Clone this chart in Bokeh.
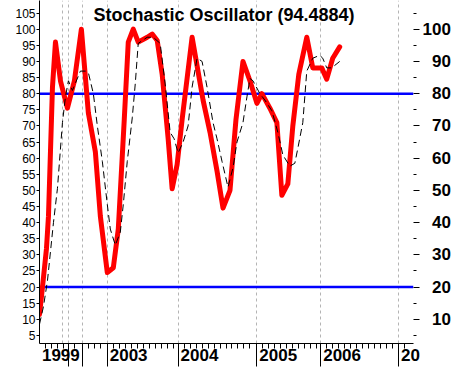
from bokeh.plotting import figure
from bokeh.models import LinearAxis, FixedTicker, Span, Label, Range1d, Grid
from bokeh.embed import file_html
from bokeh.resources import INLINE

# ---- data (x = position along the time axis, in periods) ----
k_x = [0, 3, 7, 9, 11, 13, 16, 21, 28, 35, 42, 49, 56, 61, 68, 74, 79, 85, 89, 94,
       99, 108, 113, 118, 123, 129, 133, 138, 143, 153, 164, 171, 178, 184, 191, 197,
       204, 211, 218, 223, 231, 238, 243, 249, 254, 260, 268, 274, 283, 288, 294, 301]
k_y = [11.5, 20, 32, 42, 62, 82, 96, 84, 75.5, 84, 100, 74, 62, 42, 24.5, 26, 38, 72, 96, 100,
       96, 97.5, 98.5, 96.5, 86, 66, 50.5, 58, 72, 97.5, 78, 68, 56, 44.5, 50, 72,
       90, 84, 77, 80, 75.5, 71, 48.5, 52, 70, 86, 97.5, 88, 88, 84.5, 91, 94.5]

d_x = [0, 4, 8, 11, 14, 18, 23, 26, 29, 33, 41, 46, 49, 54, 58, 63, 68, 71, 76, 81,
       84, 88, 93, 96, 99, 108, 114, 121, 126, 131, 135, 139, 144, 149, 153, 158, 163,
       168, 174, 178, 183, 189, 194, 198, 204, 208, 211, 214, 221, 226, 233, 239, 244,
       251, 256, 259, 264, 268, 274, 281, 284, 288, 293, 301]
d_y = [8.5, 14, 22, 31, 40, 50.6, 71, 79, 84, 81, 87, 87, 86.5, 80, 70, 59, 45.6, 38, 33, 37,
       45.6, 59, 72.5, 83, 95.6, 97.5, 97.5, 95.6, 83, 68, 66, 61.6, 65, 70, 82, 91, 90,
       82, 71, 66, 59, 51, 57, 65, 71, 79, 84.7, 84, 80, 78, 74.7, 68, 61,
       57.5, 58.4, 63, 71, 87, 91, 91.9, 91, 88, 88, 90]

title_text = "Stochastic Oscillator (94.4884)"
left_ticks = list(range(5, 110, 5))
right_ticks = list(range(10, 101, 10))
right_minor = list(range(5, 110, 10))
year_major = [29, 43, 68, 139, 218, 282, 360]
grid_pos = [23, 29, 43, 68, 139, 218, 282, 360]
year_pos = [0, 68, 139, 218, 282, 360]
year_labels = ["1999", "2003", "2004", "2005", "2006", "20"]
levels = [80, 20]

X_END = 375
Y_LO, Y_HI = 2.5, 108.9
LABEL_PX = 17
GAP = 2.5
BOTTOM = 24

# minor ticks: every 6 periods after each major tick
bounds = [0] + year_major + [X_END]
minor = []
for a, b in zip(bounds[:-1], bounds[1:]):
    t = a + 6
    while t < b - 3:
        minor.append(t)
        t += 6

p = figure(width=453, height=367, x_range=Range1d(0, X_END), y_range=Range1d(Y_LO, Y_HI),
           output_backend="svg", toolbar_location=None, tools="",
           x_axis_type=None, y_axis_type=None,
           min_border_left=39, min_border_right=39, min_border_top=0, min_border_bottom=BOTTOM)
p.outline_line_color = None
p.background_fill_color = "white"
p.border_fill_color = "white"

# grid
g = Grid(dimension=0, ticker=FixedTicker(ticks=grid_pos), grid_line_color="#b4b4b4",
         grid_line_dash="3 3", grid_line_width=1)
p.add_layout(g)

# bottom axis: axis line, long year ticks and short ticks
xa = LinearAxis(ticker=FixedTicker(ticks=year_major, minor_ticks=minor))
xa.axis_line_color = "black"
xa.axis_line_width = 1
xa.major_tick_out = BOTTOM - 1
xa.major_tick_in = 0
xa.minor_tick_out = 5
xa.minor_tick_in = 0
xa.major_tick_line_color = "black"
xa.minor_tick_line_color = "black"
xa.minor_tick_line_width = 1
xa.major_label_overrides = {t: "" for t in year_major}
xa.major_label_text_font_size = "1px"
xa.major_label_standoff = 0
p.add_layout(xa, "below")

# year labels, left-aligned next to the year ticks (pulled up into the tick band)
label_centers = [xp + GAP + len(s) * 0.556 * LABEL_PX / 2 for xp, s in zip(year_pos, year_labels)]
xl = LinearAxis(ticker=FixedTicker(ticks=label_centers))
xl.axis_line_color = None
xl.major_tick_line_color = None
xl.minor_tick_line_color = None
xl.major_tick_out = 0
xl.major_tick_in = 0
xl.minor_tick_out = 0
xl.minor_tick_in = 0
xl.major_label_overrides = {c: s for c, s in zip(label_centers, year_labels)}
xl.major_label_text_font = "Liberation Sans"
xl.major_label_text_font_style = "bold"
xl.major_label_text_font_size = f"{LABEL_PX}px"
xl.major_label_text_color = "black"
xl.major_label_standoff = -18
p.add_layout(xl, "below")

# left axis
ya = LinearAxis(ticker=FixedTicker(ticks=left_ticks))
ya.major_tick_out = 3
ya.major_tick_in = 0
ya.minor_tick_out = 0
ya.minor_tick_in = 0
ya.major_label_standoff = 1
ya.major_label_text_font = "Liberation Sans"
ya.major_label_text_font_size = "12px"
ya.major_label_text_color = "black"
ya.axis_line_color = "black"
p.add_layout(ya, "left")

# right axis
yr = LinearAxis(ticker=FixedTicker(ticks=right_ticks, minor_ticks=right_minor))
yr.axis_line_color = None
yr.major_tick_out = 6
yr.major_tick_in = 0
yr.minor_tick_out = 3
yr.minor_tick_in = 0
yr.major_label_standoff = 3
yr.major_label_overrides = {t: ("\u2007" + str(t) if t < 100 else str(t)) for t in right_ticks}
yr.major_label_text_font = "Liberation Sans"
yr.major_label_text_font_style = "bold"
yr.major_label_text_font_size = "17px"
yr.major_label_text_color = "black"
p.add_layout(yr, "right")

for lv in levels:
    p.add_layout(Span(location=lv, dimension="width", line_color="#0000ff",
                      line_width=2.5, level="underlay"))

p.line(k_x, k_y, line_color="#ff0000", line_width=5, line_join="round", line_cap="round")
p.line(d_x, d_y, line_color="black", line_width=1, line_dash="7 4")

p.add_layout(Label(x=185, y=104.25, text=title_text, text_align="center",
                   text_baseline="middle", text_font="Liberation Sans",
                   text_font_style="bold", text_font_size="18px", text_color="black"))

open("out.html", "w").write(file_html(p, INLINE))
